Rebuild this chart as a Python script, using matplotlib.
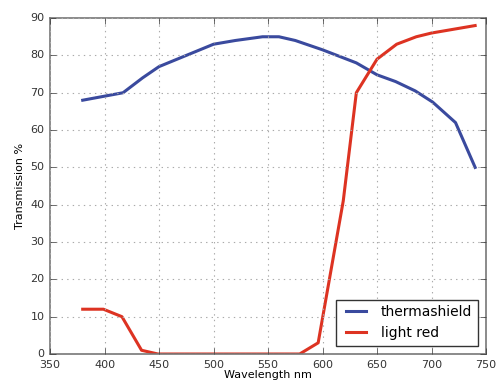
import matplotlib
matplotlib.use("Agg")
import matplotlib.pyplot as plt

# ---------- Data ----------
thermashield_nm = [380, 417, 435, 450, 475, 500, 520, 545, 560, 575, 600, 631, 650, 667, 685, 701, 722, 740]
thermashield_pct = [68, 70, 74, 77, 80, 83, 84, 85, 85, 84, 81.5, 78, 74.8, 73, 70.5, 67.5, 62, 50]

light_red_nm = [380, 399, 416, 434, 449, 500, 550, 579, 596, 619, 631, 650, 668, 686, 700, 740]
light_red_pct = [12, 12, 10, 1, 0, 0, 0, 0, 3, 41, 70, 79, 83, 85, 86, 88]

xticks = [350, 400, 450, 500, 550, 600, 650, 700, 750]
yticks = [0, 10, 20, 30, 40, 50, 60, 70, 80, 90]

# ---------- Figure ----------
plt.style.use("classic")
fig = plt.figure(figsize=(4.98, 3.85), dpi=100, facecolor="white")
ax = fig.add_axes([0.1004, 0.0805, 0.8756, 0.8725])

ax.plot(thermashield_nm, thermashield_pct, color="#3a4a9e", lw=2.2, label="thermashield")
ax.plot(light_red_nm, light_red_pct, color="#dd3322", lw=2.2, label="light red")

ax.set_xlim(350, 750)
ax.set_ylim(0, 90)
ax.set_xticks(xticks)
ax.set_yticks(yticks)
ax.tick_params(labelsize=8, colors="#333333", length=4)
for s in ax.spines.values():
    s.set_color("#777777")
    s.set_linewidth(1.2)
ax.grid(True, linestyle=":", color="#aaaaaa", linewidth=0.8)

ax.set_xlabel("Wavelength nm", fontsize=8, labelpad=0)
ax.set_ylabel("Transmission %", fontsize=8, labelpad=4)

leg = ax.legend(loc="lower right", fontsize=10, frameon=True, fancybox=False,
                handlelength=2.0, borderaxespad=0.6)
leg.get_frame().set_edgecolor("#333333")

fig.savefig("out.png", dpi=100, facecolor="white")
